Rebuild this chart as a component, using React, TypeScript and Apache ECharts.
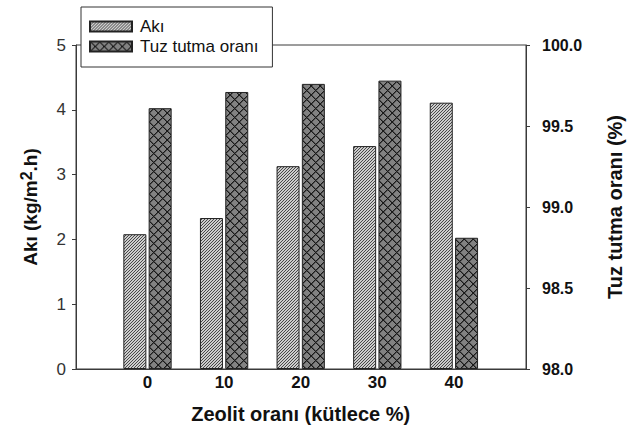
import React, { useEffect, useRef } from 'react';
import * as echarts from 'echarts';

const categories = ['0', '10', '20', '30', '40'];
const fluxValues = [2.08, 2.33, 3.13, 3.44, 4.11];
const rejectionValues = [99.61, 99.71, 99.76, 99.78, 98.81];
const seriesNames = ['Akı', 'Tuz tutma oranı'];

const FONT = "'Liberation Sans', Arial, Helvetica, sans-serif";

function hex(c: string): number[] {
  const n = parseInt(c.slice(1), 16);
  return [(n >> 16) & 255, (n >> 8) & 255, n & 255];
}

function makeTile(size: number, pick: (x: number, y: number) => string): string {
  const c = document.createElement('canvas');
  c.width = size;
  c.height = size;
  const ctx = c.getContext('2d')!;
  const img = ctx.createImageData(size, size);
  for (let y = 0; y < size; y++) {
    for (let x = 0; x < size; x++) {
      const [r, g, b] = hex(pick(x, y));
      const i = (y * size + x) * 4;
      img.data[i] = r;
      img.data[i + 1] = g;
      img.data[i + 2] = b;
      img.data[i + 3] = 255;
    }
  }
  ctx.putImageData(img, 0, 0);
  return c.toDataURL();
}

export default function App() {
  const ref = useRef<HTMLDivElement>(null);

  useEffect(() => {
    document.body.style.margin = '0';
    if (!ref.current) return;
    const chart = echarts.init(ref.current, undefined, { renderer: 'svg' });

    const hatch = {
      image: makeTile(6, (x, y) => ((x + y) % 3 === 0 ? '#484848' : '#cdcdcd')),
      repeat: 'repeat',
      imageWidth: 6,
      imageHeight: 6,
    };
    const cross = {
      image: makeTile(9, (x, y) => {
        const d = (((x - y) % 9) + 9) % 9;
        const s = (x + y) % 9;
        if (d === 0 || s === 0) return '#1a1a1a';
        if (d === 1 || s === 1) return '#505050';
        return '#828282';
      }),
      repeat: 'repeat',
      imageWidth: 9,
      imageHeight: 9,
    };

    const axisLineStyle = { color: '#3a3a3a', width: 1 };

    chart.setOption({
      animation: false,
      backgroundColor: '#ffffff',
      textStyle: { fontFamily: FONT },
      grid: [
        {
          left: 76,
          right: 109,
          top: 45,
          bottom: 56,
          containLabel: false,
          outerBoundsMode: 'none',
          show: true,
          borderColor: '#3a3a3a',
          borderWidth: 1,
          backgroundColor: 'transparent',
        },
        { left: 109.2, right: 142.8, top: 45, bottom: 56, containLabel: false, outerBoundsMode: 'none' },
      ],
      legend: {
        orient: 'vertical',
        left: 81,
        top: 7,
        itemWidth: 42,
        itemHeight: 10,
        itemGap: 3,
        padding: [11, 14, 12, 8],
        backgroundColor: '#ffffff',
        borderColor: '#333333',
        borderWidth: 1,
        icon: 'rect',
        textStyle: { fontSize: 17, color: '#111111', fontFamily: FONT, padding: [0, 0, 0, 3] },
        data: seriesNames,
      },
      xAxis: [
        {
          gridIndex: 0,
          type: 'category',
          data: categories,
          axisLine: { show: true, lineStyle: axisLineStyle },
          axisTick: { show: false },
          axisLabel: { show: false },
          splitLine: { show: false },
        },
        {
          gridIndex: 1,
          type: 'category',
          data: categories,
          axisLine: { show: false },
          axisTick: { show: false },
          splitLine: { show: false },
          axisLabel: { fontSize: 17, fontWeight: 'bold', color: '#111111', margin: 5, fontFamily: FONT },
          name: 'Zeolit oranı (kütlece %)',
          nameLocation: 'middle',
          nameGap: 35,
          nameTextStyle: { fontSize: 20, fontWeight: 'bold', color: '#111111', fontFamily: FONT },
        },
      ],
      yAxis: [
        {
          gridIndex: 0,
          type: 'value',
          position: 'left',
          min: 0,
          max: 5,
          interval: 1,
          axisLine: { show: true, lineStyle: axisLineStyle },
          axisTick: { show: true, inside: false, length: 4, lineStyle: axisLineStyle },
          axisLabel: { fontSize: 17, color: '#333333', margin: 10, fontFamily: FONT },
          splitLine: { show: false },
          name: 'Akı (kg/m{s|2}.h)',
          nameLocation: 'middle',
          nameRotate: 90,
          nameGap: 33,
          nameTextStyle: {
            fontSize: 19,
            fontWeight: 'bold',
            color: '#111111',
            fontFamily: FONT,
            lineHeight: 25,
            rich: {
              s: { fontSize: 16, fontWeight: 'bold', color: '#111111', fontFamily: FONT, verticalAlign: 'top', lineHeight: 16 },
            },
          },
        },
        {
          gridIndex: 0,
          type: 'value',
          position: 'right',
          min: 98,
          max: 100,
          interval: 0.5,
          axisLine: { show: true, lineStyle: axisLineStyle },
          axisTick: { show: true, inside: false, length: 4, lineStyle: axisLineStyle },
          axisLabel: {
            fontSize: 16,
            fontWeight: 'bold',
            color: '#111111',
            margin: 16,
            fontFamily: FONT,
            formatter: (v: number) => v.toFixed(1),
          },
          splitLine: { show: false },
          name: 'Tuz tutma oranı (%)',
          nameLocation: 'middle',
          nameRotate: 90,
          nameGap: 79,
          nameTextStyle: { fontSize: 20, fontWeight: 'bold', color: '#111111', fontFamily: FONT },
        },
        { gridIndex: 1, type: 'value', min: 0, max: 5, show: false },
        { gridIndex: 1, type: 'value', min: 98, max: 100, show: false, startValue: 98 },
      ],
      series: [
        {
          name: seriesNames[0],
          type: 'bar',
          xAxisIndex: 1,
          yAxisIndex: 2,
          data: fluxValues,
          barWidth: 23,
          barGap: '10%',
          itemStyle: { color: hatch, borderColor: '#222222', borderWidth: 1 },
        },
        {
          name: seriesNames[1],
          type: 'bar',
          xAxisIndex: 1,
          yAxisIndex: 3,
          data: rejectionValues,
          barWidth: 23,
          barGap: '10%',
          itemStyle: { color: cross, borderColor: '#222222', borderWidth: 1 },
        },
      ],
    } as any);

    return () => chart.dispose();
  }, []);

  return <div ref={ref} style={{ width: 635, height: 425 }} />;
}
